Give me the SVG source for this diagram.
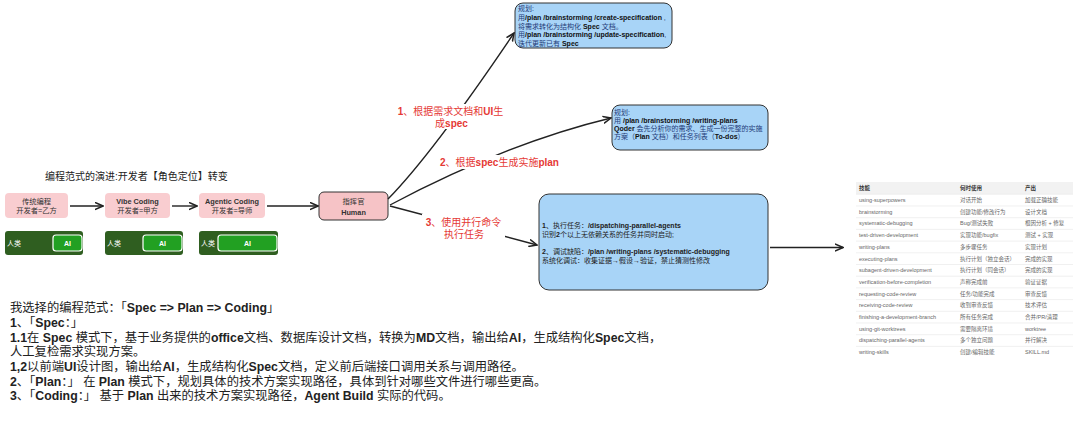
<svg xmlns="http://www.w3.org/2000/svg" width="1080" height="422" viewBox="0 0 1080 422">
<defs>
<marker id="arr" viewBox="0 0 10 10" refX="9" refY="5" markerWidth="9" markerHeight="9" markerUnits="userSpaceOnUse" orient="auto"><path d="M0,1 L9,5 L0,9" fill="none" stroke="#222" stroke-width="1.7" stroke-linejoin="miter"/></marker>
<style>
.cjk{font-family:"Liberation Sans","Noto Sans CJK SC",sans-serif}
.b{font-weight:bold}
.blue{fill:#a8d4f7;stroke:#333;stroke-width:1}
.bt{font-family:"Liberation Sans","Noto Sans CJK SC",sans-serif;font-size:7px;fill:#1f3b78}
.bt .b{fill:#111}
.bk{font-family:"Liberation Sans","Noto Sans CJK SC",sans-serif;font-size:7px;fill:#222}
.conn{fill:none;stroke:#222;stroke-width:1.4}
.lbl{font-family:"Liberation Sans","Noto Sans CJK SC",sans-serif;font-size:10px;fill:#e53935}
.pink{fill:#f9cdd0}
.pt{font-family:"Liberation Sans","Noto Sans CJK SC",sans-serif;font-size:7.3px;fill:#333;text-anchor:middle}
.bar{fill:#2f5e20}
.ai{fill:#22a022;stroke:#fff;stroke-width:1.2}
.wt{font-family:"Liberation Sans","Noto Sans CJK SC",sans-serif;font-size:7px;fill:#fff}
.tbl{font-family:"Liberation Sans","Noto Sans CJK SC",sans-serif;font-size:5.5px;fill:#666}
.th{font-weight:bold;fill:#333}
.row{stroke:#e6e6e6;stroke-width:0.6}
.main{font-family:"Liberation Sans","Noto Sans CJK SC",sans-serif;font-size:12.3px;fill:#222;font-variant-ligatures:none}
</style>
</defs>
<rect width="1080" height="422" fill="#fff"/>

<text class="cjk" x="45" y="180" font-size="10" fill="#222">编程范式的演进:开发者【角色定位】转变</text>

<g id="traditional">
<rect class="pink" x="5" y="193" width="63" height="25" rx="4"/>
<text class="pt" x="36.5" y="203.5">传统编程</text>
<text class="pt" x="36.5" y="213">开发者=乙方</text>
</g>
<g id="vibe">
<rect class="pink" x="105" y="193" width="65" height="25" rx="4"/>
<text class="pt" x="137.5" y="203.5"><tspan class="b">Vibe Coding</tspan></text>
<text class="pt" x="137.5" y="213">开发者=甲方</text>
</g>
<g id="agentic">
<rect class="pink" x="199" y="193" width="66" height="25" rx="4"/>
<text class="pt" x="232" y="203.5"><tspan class="b">Agentic Coding</tspan></text>
<text class="pt" x="232" y="213">开发者=导师</text>
</g>

<g id="bar1">
<rect class="bar" x="5" y="231" width="78" height="24" rx="3"/>
<text class="wt" x="7" y="245.5">人类</text>
<rect class="ai" x="53" y="235" width="29" height="16" rx="3"/>
<text class="wt b" x="67.5" y="245.5" text-anchor="middle">AI</text>
</g>
<g id="bar2">
<rect class="bar" x="105" y="231" width="78" height="24" rx="3"/>
<text class="wt" x="107" y="245.5">人类</text>
<rect class="ai" x="143" y="235" width="39" height="16" rx="3"/>
<text class="wt b" x="162.5" y="245.5" text-anchor="middle">AI</text>
</g>
<g id="bar3">
<rect class="bar" x="199" y="231" width="79" height="24" rx="3"/>
<text class="wt" x="201" y="245.5">人类</text>
<rect class="ai" x="218" y="235" width="59" height="16" rx="3"/>
<text class="wt b" x="247.5" y="245.5" text-anchor="middle">AI</text>
</g>

<g id="commander">
<rect x="319" y="192" width="69" height="28" rx="5" fill="#f6c3c6" stroke="#333" stroke-width="1"/>
<text class="pt" x="353.5" y="204">指挥官</text>
<text class="pt b" x="353.5" y="214.5" font-size="7">Human</text>
</g>

<g id="spec-box">
<rect class="blue" x="515" y="3" width="157" height="45" rx="8"/>
<text class="bt" x="518" y="11">规划:</text>
<text class="bt" x="518" y="20">用<tspan class="b">/plan /brainstorming /create-specification</tspan> ,</text>
<text class="bt" x="518" y="28.5">将需求转化为结构化 <tspan class="b">Spec</tspan> 文档。</text>
<text class="bt" x="518" y="37">用<tspan class="b">/plan /brainstorming /update-specification</tspan>,</text>
<text class="bt" x="518" y="45.5">迭代更新已有 <tspan class="b">Spec</tspan></text>
</g>

<g id="plan-box">
<rect class="blue" x="612" y="105" width="156" height="45" rx="8"/>
<text class="bt" x="614" y="114.5">规划:</text>
<text class="bt" x="614" y="122.5">用 <tspan class="b">/plan /brainstorming /writing-plans</tspan></text>
<text class="bt" x="614" y="130.5"><tspan class="b">Qoder</tspan> 会先分析你的需求、生成一份完整的实施</text>
<text class="bt" x="614" y="138.5">方案（<tspan class="b">Plan</tspan> 文档）和任务列表（<tspan class="b">To-dos</tspan>）</text>
</g>

<g id="exec-box">
<rect class="blue" x="539" y="194" width="229" height="96" rx="10"/>
<text class="bk" x="542" y="228"><tspan class="b">1</tspan>、执行任务：<tspan class="b">/dispatching-parallel-agents</tspan></text>
<text class="bk" x="542" y="236.5">识别<tspan class="b">2</tspan>个以上无依赖关系的任务并同时启动;</text>
<text class="bk" x="542" y="254"><tspan class="b">2</tspan>、调试缺陷：<tspan class="b">/plan /writing-plans /systematic-debugging</tspan></text>
<text class="bk" x="542" y="262.5">系统化调试：收集证据→假设→验证，禁止猜测性修改</text>
</g>

<g id="skills-table" class="tbl">
<rect x="856" y="182" width="217" height="12" fill="#f2f2f2"/>
<g class="row">
<line x1="856" y1="194.3" x2="1073" y2="194.3"/>
<line x1="856" y1="206" x2="1073" y2="206"/>
<line x1="856" y1="217.7" x2="1073" y2="217.7"/>
<line x1="856" y1="229.4" x2="1073" y2="229.4"/>
<line x1="856" y1="241.1" x2="1073" y2="241.1"/>
<line x1="856" y1="252.8" x2="1073" y2="252.8"/>
<line x1="856" y1="264.5" x2="1073" y2="264.5"/>
<line x1="856" y1="276.2" x2="1073" y2="276.2"/>
<line x1="856" y1="287.9" x2="1073" y2="287.9"/>
<line x1="856" y1="299.6" x2="1073" y2="299.6"/>
<line x1="856" y1="311.3" x2="1073" y2="311.3"/>
<line x1="856" y1="323" x2="1073" y2="323"/>
<line x1="856" y1="334.7" x2="1073" y2="334.7"/>
<line x1="856" y1="346.4" x2="1073" y2="346.4"/>
</g>
<text class="th" x="859" y="190">技能</text><text class="th" x="960" y="190">何时使用</text><text class="th" x="1025" y="190">产出</text>
<text x="859" y="202">using-superpowers</text><text x="960" y="202">对话开始</text><text x="1025" y="202">加载正确技能</text>
<text x="859" y="213.7">brainstorming</text><text x="960" y="213.7">创建功能/修改行为</text><text x="1025" y="213.7">设计文档</text>
<text x="859" y="225.4">systematic-debugging</text><text x="960" y="225.4">Bug/测试失败</text><text x="1025" y="225.4">根因分析 + 修复</text>
<text x="859" y="237.1">test-driven-development</text><text x="960" y="237.1">实现功能/bugfix</text><text x="1025" y="237.1">测试 + 实现</text>
<text x="859" y="248.8">writing-plans</text><text x="960" y="248.8">多步骤任务</text><text x="1025" y="248.8">实现计划</text>
<text x="859" y="260.5">executing-plans</text><text x="960" y="260.5">执行计划（独立会话）</text><text x="1025" y="260.5">完成的实现</text>
<text x="859" y="272.2">subagent-driven-development</text><text x="960" y="272.2">执行计划（同会话）</text><text x="1025" y="272.2">完成的实现</text>
<text x="859" y="283.9">verification-before-completion</text><text x="960" y="283.9">声称完成前</text><text x="1025" y="283.9">验证证据</text>
<text x="859" y="295.6">requesting-code-review</text><text x="960" y="295.6">任务/功能完成</text><text x="1025" y="295.6">审查反馈</text>
<text x="859" y="307.3">receiving-code-review</text><text x="960" y="307.3">收到审查反馈</text><text x="1025" y="307.3">技术评估</text>
<text x="859" y="319">finishing-a-development-branch</text><text x="960" y="319">所有任务完成</text><text x="1025" y="319">合并/PR/清理</text>
<text x="859" y="330.7">using-git-worktrees</text><text x="960" y="330.7">需要隔离环境</text><text x="1025" y="330.7">worktree</text>
<text x="859" y="342.4">dispatching-parallel-agents</text><text x="960" y="342.4">多个独立问题</text><text x="1025" y="342.4">并行解决</text>
<text x="859" y="354.1">writing-skills</text><text x="960" y="354.1">创建/编辑技能</text><text x="1025" y="354.1">SKILL.md</text>
</g>

<g id="connectors">
<line class="conn" x1="70" y1="206" x2="103" y2="206" marker-end="url(#arr)"/>
<line class="conn" x1="172" y1="206" x2="197" y2="206" marker-end="url(#arr)"/>
<line class="conn" x1="267" y1="206" x2="318" y2="206" marker-end="url(#arr)"/>
<path class="conn" d="M388,199 Q433,153 514,33" marker-end="url(#arr)"/>
<path class="conn" d="M390,205 Q507,143 611,118" marker-end="url(#arr)"/>
<line class="conn" x1="390" y1="206" x2="537" y2="245" marker-end="url(#arr)"/>
<line class="conn" x1="770" y1="247.5" x2="843" y2="247.5" marker-end="url(#arr)"/>
<rect x="396" y="104" width="110" height="25" fill="#fff"/>
<text class="lbl" x="450.5" y="115" text-anchor="middle"><tspan class="b">1</tspan>、根据需求文档和<tspan class="b">UI</tspan>生</text>
<text class="lbl" x="451.5" y="127" text-anchor="middle">成<tspan class="b">spec</tspan></text>
<rect x="441" y="155" width="117" height="14" fill="#fff"/>
<text class="lbl" x="499.5" y="165.5" text-anchor="middle"><tspan class="b">2</tspan>、根据<tspan class="b">spec</tspan>生成实施<tspan class="b">plan</tspan></text>
<rect x="422" y="214" width="83" height="26" fill="#fff"/>
<text class="lbl" x="463.5" y="225.5" text-anchor="middle"><tspan class="b">3</tspan>、使用并行命令</text>
<text class="lbl" x="464" y="237.5" text-anchor="middle">执行任务</text>
</g>

<g id="notes" class="main">
<text x="10" y="312">我选择的编程范式：「<tspan class="b">Spec =&gt; Plan =&gt; Coding</tspan>」</text>
<text x="10" y="327"><tspan class="b">1</tspan>、「<tspan class="b">Spec</tspan>：」</text>
<text x="10" y="342"><tspan class="b">1.1</tspan>在 <tspan class="b">Spec</tspan> 模式下，基于业务提供的<tspan class="b">office</tspan>文档、数据库设计文档，转换为<tspan class="b">MD</tspan>文档，输出给<tspan class="b">AI</tspan>，生成结构化<tspan class="b">Spec</tspan>文档，</text>
<text x="10" y="356">人工复检需求实现方案。</text>
<text x="10" y="371"><tspan class="b">1,2</tspan>以前端<tspan class="b">UI</tspan>设计图，输出给<tspan class="b">AI</tspan>，生成结构化<tspan class="b">Spec</tspan>文档，定义前后端接口调用关系与调用路径。</text>
<text x="10" y="386"><tspan class="b">2</tspan>、「<tspan class="b">Plan</tspan>：」 在 <tspan class="b">Plan</tspan> 模式下，规划具体的技术方案实现路径，具体到针对哪些文件进行哪些更高。</text>
<text x="10" y="400"><tspan class="b">3</tspan>、「<tspan class="b">Coding</tspan>：」 基于 <tspan class="b">Plan</tspan> 出来的技术方案实现路径，<tspan class="b">Agent Build</tspan> 实际的代码。</text>
</g>
</svg>
